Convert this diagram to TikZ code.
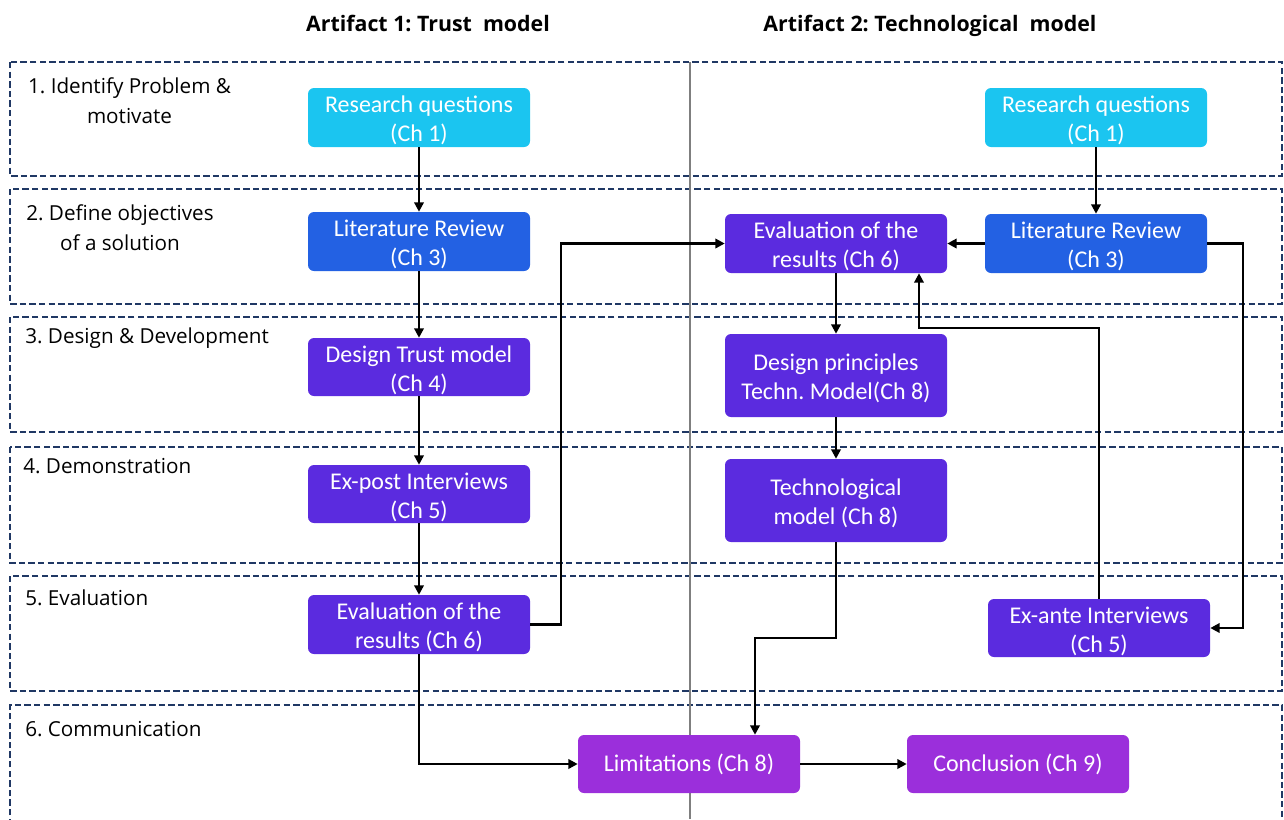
\documentclass[tikz,border=0pt]{standalone}
\usepackage{fontspec}
\setmainfont{Open Sans}
\newfontfamily\boxfont{Carlito}
\usetikzlibrary{arrows.meta}
\frenchspacing
\definecolor{framenavy}{HTML}{203864}
\definecolor{qcyan}{HTML}{1BC5F0}
\definecolor{revblue}{HTML}{2361E3}
\definecolor{stepviolet}{HTML}{5B2BDF}
\definecolor{endmagenta}{HTML}{9B2FDB}
\definecolor{splitgray}{HTML}{7F7F7F}
% box from corner (x1,y1) to (x2,y2), in pixel units
\newcommand\chbox[7]{%
  \node[chbox, fill=#6, minimum width={(#4-#2)*0.75pt}, minimum height={(#5-#3)*0.75pt}]
    (#1) at ({(#2+#4)/2},{(#3+#5)/2}) {#7};}
% strut that lowers two-line captions a little
\newcommand\lowr{\rule{0pt}{17pt}}
\begin{document}
\begin{tikzpicture}[x=0.75pt,y=-0.75pt,
  chbox/.style={rounded corners=4.5pt, draw=none, text=white, align=center, inner sep=0pt,
    font=\boxfont\fontsize{18}{21.5}\selectfont},
  phase/.style={draw=framenavy, line width=1.5pt, dash pattern=on 4.8pt off 2.4pt},
  conn/.style={draw=black, line width=1.8pt, -{Triangle[length=7pt,width=7pt]}},
  rowlabel/.style={font=\fontsize{15.5}{22.5}\selectfont, align=center, inner sep=0pt},
  head/.style={font=\bfseries\fontsize{16}{20}\selectfont, inner sep=0pt, anchor=base}]
\useasboundingbox (0,0) rectangle (1284,819);

% column headings
\node[head] (h1) at (428,31) {Artifact 1: Trust\ \ model};
\node[head] (h2) at (930,31) {Artifact 2: Technological\ \ model};

% phase frames
\draw[phase] (10,62) rectangle (1282,176);
\draw[phase] (10,189) rectangle (1282,304);
\draw[phase] (10,317) rectangle (1282,432);
\draw[phase] (10,447) rectangle (1282,563);
\draw[phase] (10,576) rectangle (1282,691);
\draw[phase] (10,825) -- (10,705) -- (1282,705) -- (1282,825);

% column divider
\draw[splitgray, line width=0.8pt] (690,62) -- (690,819);

% phase labels
\node[rowlabel] (l1) at (129.5,101) {1. Identify Problem \&\\motivate};
\node[rowlabel] (l2) at (120,228) {2. Define objectives\\of a solution};
\node[rowlabel, anchor=west] (l3) at (25,338) {3. Design \& Development};
\node[rowlabel, anchor=west] (l4) at (23,466) {4. Demonstration};
\node[rowlabel, anchor=west] (l5) at (25,598) {5. Evaluation};
\node[rowlabel, anchor=west] (l6) at (25,729) {6. Communication};

% artifact 1 steps
\chbox{RQa}{308}{88}{530}{147}{qcyan}{\lowr Research questions\\(Ch 1)}
\chbox{LRa}{308}{212}{530}{271}{revblue}{\lowr Literature Review\\(Ch 3)}
\chbox{DT}{308}{338}{530}{396}{stepviolet}{\lowr Design Trust model\\(Ch 4)}
\chbox{EP}{308}{465}{530}{523}{stepviolet}{\lowr Ex-post Interviews\\(Ch 5)}
\chbox{EVa}{308}{595}{530}{654}{stepviolet}{\lowr Evaluation of the\\results (Ch 6)}

% artifact 2 steps
\chbox{RQb}{985}{88}{1207}{147}{qcyan}{\lowr Research questions\\(Ch 1)}
\chbox{LRb}{985}{214}{1207}{273}{revblue}{\lowr Literature Review\\(Ch 3)}
\chbox{EVb}{725}{214}{947}{273}{stepviolet}{\lowr Evaluation of the\\results (Ch 6)}
\chbox{DP}{725}{334}{947}{417}{stepviolet}{\lowr Design principles\\Techn. Model(Ch 8)}
\chbox{TM}{725}{459}{947}{542}{stepviolet}{\lowr Technological\\model (Ch 8)}
\chbox{EA}{988}{599}{1210}{657}{stepviolet}{\lowr Ex-ante Interviews\\(Ch 5)}

% communication
\chbox{LIM}{578}{735}{800}{793}{endmagenta}{Limitations (Ch 8)}
\chbox{CON}{907}{735}{1129}{793}{endmagenta}{Conclusion (Ch 9)}

% connectors
\coordinate (turnA) at (919,328);
\coordinate (turnB) at (755,638);
\draw[conn] (RQa) -- (LRa);
\draw[conn] (LRa) -- (DT);
\draw[conn] (DT) -- (EP);
\draw[conn] (EP) -- (EVa);
\draw[conn] (EVa.east) -- ++(31,0) |- (EVb.west);
\draw[conn] (RQb) -- (LRb);
\draw[conn] (LRb.west) -- (EVb.east);
\draw[conn] (LRb.east) -- ++(36,0) |- (EA.east);
\draw[conn] (EA.north) |- (turnA) -- (turnA |- EVb.south);
\draw[conn] (EVb) -- (DP);
\draw[conn] (DP) -- (TM);
\draw[conn] (TM.south) |- (turnB) -- (turnB |- LIM.north);
\draw[conn] (EVa.south) |- (LIM.west);
\draw[conn] (LIM) -- (CON);
\end{tikzpicture}
\end{document}
